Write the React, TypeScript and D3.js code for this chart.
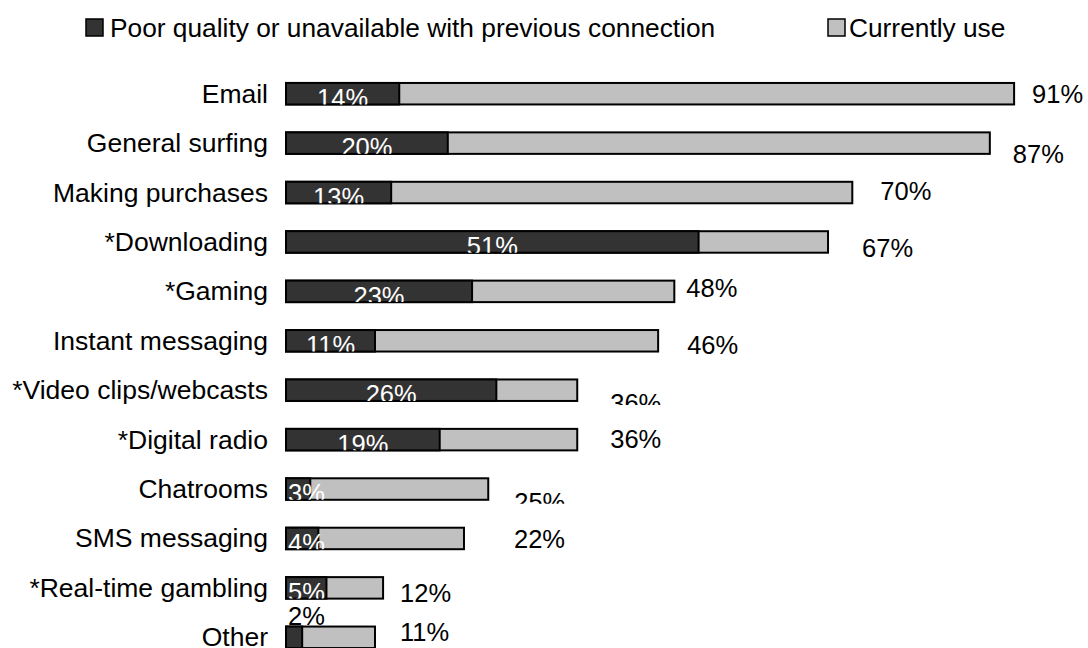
import React from "react";
import * as d3 from "d3";

const categories = [
  "Email",
  "General surfing",
  "Making purchases",
  "*Downloading",
  "*Gaming",
  "Instant messaging",
  "*Video clips/webcasts",
  "*Digital radio",
  "Chatrooms",
  "SMS messaging",
  "*Real-time gambling",
  "Other",
];
const poorQuality = [14, 20, 13, 51, 23, 11, 26, 19, 3, 4, 5, 2];
const currentlyUse = [90, 87, 70, 67, 48, 46, 36, 36, 25, 22, 12, 11];
const currentlyUseLabels = ["91%", "87%", "70%", "67%", "48%", "46%", "36%", "36%", "25%", "22%", "12%", "11%"];
const legendLabels = ["Poor quality or unavailable with previous connection", "Currently use"];

// label placement nudges for the "Currently use" value labels (annotation layout)
const labelDx = [18, 23, 28, 34, 12, 29, 33, 33, 26, 50, 17, 25];
const labelDy = [20, 31, 18, 26, 16, 24, 33, 19, 33, 20, 25, 14];
const clippedLabels = ["*Video clips/webcasts", "Chatrooms"];

const W = 1088;
const H = 648;
const FONT = "'Liberation Sans', Arial, Helvetica, sans-serif";
const FS_CAT = 26.5;
const FS_LEG = 26.3;
const FS_VAL = 25.5;
const DARK = "#333333";
const LIGHT = "#c0c0c0";

function textWidth(s: string) {
  let w = 0;
  for (const c of s) w += c === "%" ? 0.889 : 0.556;
  return w * FS_VAL;
}

export default function App() {
  const x = d3.scaleLinear().domain([0, 100]).range([286, 1095]);
  const y = d3
    .scaleBand<string>()
    .domain(categories)
    .range([69, 662])
    .paddingInner(0.565)
    .paddingOuter(0.2825);
  const bh = y.bandwidth();

  return (
    <svg
      width={W}
      height={H}
      style={{ position: "absolute", left: 0, top: 0, background: "#fff" }}
      fontFamily={FONT}
    >
      <defs>
        {categories.map((c, i) => (
          <clipPath id={`rowclip-${i}`} key={`rc${i}`}>
            <rect x={0} y={y(c)!} width={W} height={bh} />
          </clipPath>
        ))}
        {categories.map((c, i) => (
          <clipPath id={`lblclip-${i}`} key={`lc${i}`}>
            <rect x={0} y={y(c)! - 20} width={W} height={bh + 24} />
          </clipPath>
        ))}
      </defs>

      {/* legend */}
      <g>
        <rect x={86} y={19} width={17} height={17} fill={DARK} stroke="#000" strokeWidth={1.5} />
        <text x={110} y={37} fontSize={FS_LEG} fill="#000">{legendLabels[0]}</text>
        <rect x={828} y={19} width={17} height={17} fill={LIGHT} stroke="#000" strokeWidth={1.5} />
        <text x={849} y={37} fontSize={FS_LEG} fill="#000">{legendLabels[1]}</text>
      </g>

      {categories.map((c, i) => {
        const top = y(c)!;
        const x0 = x(0);
        const xl = x(currentlyUse[i]);
        const xd = x(poorQuality[i]);
        const darkLabel = `${poorQuality[i]}%`;
        const tw = textWidth(darkLabel);
        const inside = poorQuality[i] >= 3;
        const fitsCentered = xd - x0 >= tw + 4;
        const dlx = fitsCentered ? (x0 + xd) / 2 : x0 + 2;
        const anchor = fitsCentered ? "middle" : "start";
        const clipped = clippedLabels.includes(c);
        return (
          <g key={c}>
            <text x={268} y={top + bh / 2 + 9} fontSize={FS_CAT} textAnchor="end" fill="#000">
              {c}
            </text>
            <rect x={x0} y={top} width={xl - x0} height={bh} fill={LIGHT} stroke="#000" strokeWidth={2} />
            <rect x={x0} y={top} width={xd - x0} height={bh} fill={DARK} stroke="#000" strokeWidth={2} />
            {inside ? (
              <text
                x={dlx}
                y={top + 24}
                fontSize={FS_VAL}
                textAnchor={anchor}
                fill="#fff"
                clipPath={`url(#rowclip-${i})`}
              >
                {darkLabel}
              </text>
            ) : (
              <text x={x0 + 2} y={top - 2} fontSize={FS_VAL} textAnchor="start" fill="#000">
                {darkLabel}
              </text>
            )}
            <text
              x={xl + labelDx[i]}
              y={top + labelDy[i]}
              fontSize={FS_VAL}
              fill="#000"
              clipPath={clipped ? `url(#lblclip-${i})` : undefined}
            >
              {currentlyUseLabels[i]}
            </text>
          </g>
        );
      })}
    </svg>
  );
}
